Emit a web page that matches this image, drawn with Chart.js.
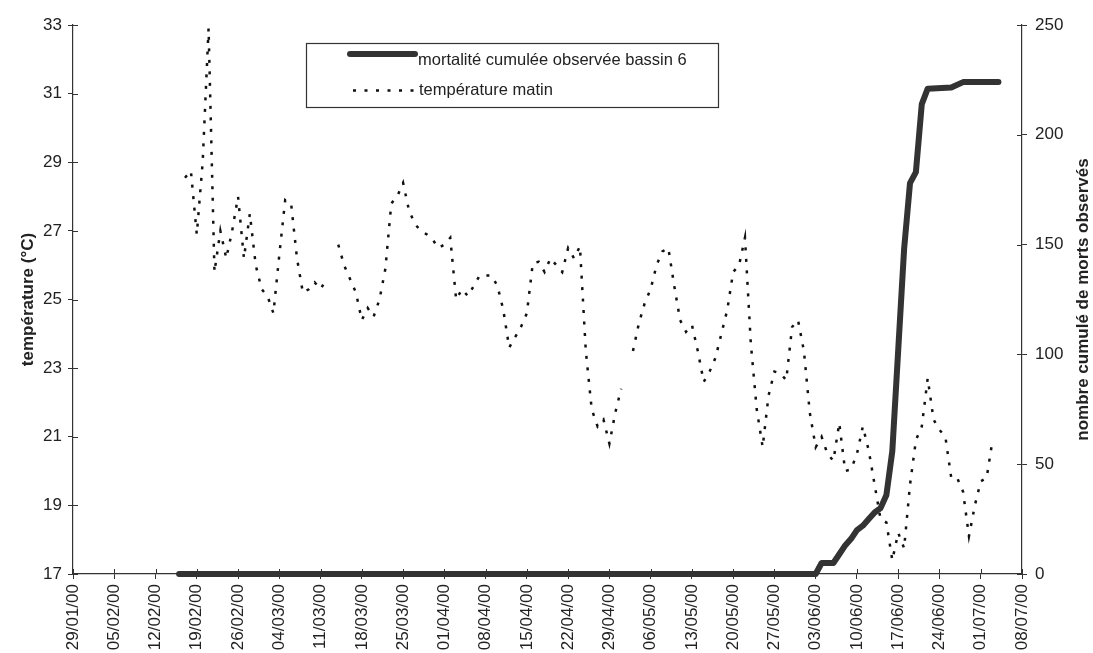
<!DOCTYPE html>
<html lang="fr">
<head>
<meta charset="utf-8">
<title>Mortalité cumulée et température - bassin 6</title>
<script src="https://cdn.jsdelivr.net/npm/chart.js@4.4.1/dist/chart.umd.min.js"></script>
<style>
  body { margin: 0; background: #fff; }
  #graphe { display: block; }
</style>
</head>
<body>
<canvas id="graphe" width="1093" height="653"></canvas>
<script>
// axe des x en jours, jour 0 = 29/01/00
var datesAxe = ['29/01/00', '05/02/00', '12/02/00', '19/02/00', '26/02/00', '04/03/00',
    '11/03/00', '18/03/00', '25/03/00', '01/04/00', '08/04/00', '15/04/00', '22/04/00',
    '29/04/00', '06/05/00', '13/05/00', '20/05/00', '27/05/00', '03/06/00', '10/06/00',
    '17/06/00', '24/06/00', '01/07/00', '08/07/00'];

// température matin, un relevé par jour à partir du jour 19 (17/02/00)
var jourDebutTemp = 19;
var temperatureMatin = [
    28.55, 28.75, 26.9, 29.0, 32.9, 25.8, 27.0, 26.2, 27.0, 28.0,
    26.2, 27.5, 26.0, 25.3, 25.1, 24.6, 26.3, 27.9, 27.8, 26.2,
    25.2, 25.3, 25.5, 25.3, 25.6, null, 26.6, 26.0, 25.6, 25.2,
    24.4, 24.75, 24.5, 25.0, 25.9, 27.8, 28.0, 28.4, 27.6, 27.2,
    27.0, 26.9, 26.75, 26.5, 26.6, 26.8, 25.0, 25.3, 25.1, 25.4,
    25.7, 25.7, 25.7, 25.4, 24.7, 23.6, 23.9, 24.2, 24.6, 26.05,
    26.1, 25.8, 26.2, 26.0, 25.8, 26.5, 26.2, 26.55, 23.5, 21.8,
    21.3, 21.5, 20.8, 21.7, 22.4, null, 23.5, 24.3, 24.9, 25.3,
    26.0, 26.4, 26.5, 25.4, 24.4, 24.06, 24.26, 23.5, 22.6, 22.9,
    23.3, 24.0, 24.7, 25.8, 26.0, 26.8, 23.7, 21.8, 20.7, 22.2,
    22.9, 22.85, 22.65, 24.2, 24.4, 23.5, 21.7, 20.7, 21.0, 20.5,
    20.3, 21.4, 20.0, 20.05, 20.5, 21.3, 20.6, 19.6, 18.6, 18.5,
    17.4, 18.2, 17.75, 19.6, 20.9, 21.3, 22.7, 21.5, 21.2, 21.0,
    19.8, 19.8, 19.4, 18.1, 19.0, 19.7, 19.8, 20.9
];

// mortalité cumulée observée bassin 6
var mortJours = [18, 126, 127, 129, 130, 131, 132, 133, 134, 135, 136, 137, 138, 139,
    140, 141, 142, 143, 144, 145, 149, 151, 157];
var mortCumul = [0, 0, 5, 5, 9, 13, 16, 20, 22, 25, 28, 30, 36, 56,
    102, 148, 178, 183, 214, 221, 221.5, 224, 224];

var police = '"Liberation Sans", Arial, sans-serif';

var ptsTemp = temperatureMatin.map(function (v, i) {
    return { x: jourDebutTemp + i, y: v };
});
var ptsMort = mortJours.map(function (j, i) {
    return { x: j, y: mortCumul[i] };
});

// graduations croisées, titres des axes et légende encadrée
var decor = {
    id: 'decor',
    afterDraw: function (chart) {
        var ctx = chart.ctx;
        var a = chart.chartArea;
        var sx = chart.scales.x, sy = chart.scales.y, sy1 = chart.scales.y1;
        ctx.save();
        ctx.strokeStyle = '#333';
        ctx.lineWidth = 1;
        ctx.beginPath();
        sx.ticks.forEach(function (t) {
            var p = Math.round(sx.getPixelForValue(t.value)) + 0.5;
            ctx.moveTo(p, a.bottom); ctx.lineTo(p, a.bottom - 5);
        });
        sy.ticks.forEach(function (t) {
            var p = Math.round(sy.getPixelForValue(t.value)) + 0.5;
            ctx.moveTo(a.left, p); ctx.lineTo(a.left + 5, p);
        });
        sy1.ticks.forEach(function (t) {
            var p = Math.round(sy1.getPixelForValue(t.value)) + 0.5;
            ctx.moveTo(a.right, p); ctx.lineTo(a.right - 5, p);
        });
        ctx.stroke();

        // titres des axes (lus de bas en haut)
        ctx.fillStyle = '#222';
        ctx.font = 'bold 17px ' + police;
        ctx.textAlign = 'center';
        ctx.textBaseline = 'middle';
        var cy = (a.top + a.bottom) / 2;
        ctx.save();
        ctx.translate(28, cy);
        ctx.rotate(-Math.PI / 2);
        ctx.fillText('température (°C)', 0, 0);
        ctx.restore();
        ctx.save();
        ctx.translate(1083, cy);
        ctx.rotate(-Math.PI / 2);
        ctx.fillText('nombre cumulé de morts observés', 0, 0);
        ctx.restore();

        // légende
        ctx.lineWidth = 1.2;
        ctx.strokeStyle = '#333';
        ctx.strokeRect(306.5, 43.5, 412, 64);
        ctx.lineCap = 'round';
        ctx.strokeStyle = '#333';
        ctx.lineWidth = 6;
        ctx.beginPath();
        ctx.moveTo(350, 54); ctx.lineTo(415, 54);
        ctx.stroke();
        ctx.lineCap = 'butt';
        ctx.lineWidth = 2.5;
        ctx.strokeStyle = '#111';
        ctx.setLineDash([3, 8.5]);
        ctx.beginPath();
        ctx.moveTo(353, 90.5); ctx.lineTo(418, 90.5);
        ctx.stroke();
        ctx.setLineDash([]);
        ctx.font = '16.5px ' + police;
        ctx.textAlign = 'left';
        ctx.fillText('mortalité cumulée observée bassin 6', 418, 60);
        ctx.fillText('température matin', 419, 90.5);
        ctx.restore();
    }
};

new Chart(document.getElementById('graphe'), {
    type: 'line',
    data: {
        datasets: [{
            label: 'mortalité cumulée observée bassin 6',
            data: ptsMort,
            yAxisID: 'y1',
            borderColor: '#333',
            borderWidth: 6,
            borderCapStyle: 'round',
            borderJoinStyle: 'round',
            pointRadius: 0,
            tension: 0,
            clip: false
        }, {
            label: 'température matin',
            data: ptsTemp,
            yAxisID: 'y',
            borderColor: '#111',
            borderWidth: 2.5,
            borderDash: [3, 8.5],
            pointRadius: 0,
            tension: 0,
            spanGaps: false
        }]
    },
    options: {
        responsive: false,
        animation: false,
        layout: { padding: { top: 25, left: 0, right: 0, bottom: 0 } },
        plugins: {
            legend: { display: false },
            tooltip: { enabled: false }
        },
        scales: {
            x: {
                type: 'linear',
                min: 0,
                max: 161,
                afterFit: function (s) { s.height = 79; },
                border: { display: true, color: '#333', width: 1.2 },
                grid: { drawOnChartArea: false, drawTicks: true, tickLength: 5, color: '#333' },
                ticks: {
                    stepSize: 7,
                    autoSkip: false,
                    minRotation: 90,
                    maxRotation: 90,
                    padding: 5,
                    color: '#222',
                    font: { family: police, size: 17 },
                    callback: function (v) { return datesAxe[Math.round(v / 7)]; }
                }
            },
            y: {
                position: 'left',
                min: 17,
                max: 33,
                afterFit: function (s) { s.width = 73; },
                border: { display: true, color: '#333', width: 1.2 },
                grid: { drawOnChartArea: false, drawTicks: true, tickLength: 5, color: '#333' },
                ticks: {
                    stepSize: 2,
                    padding: 6,
                    color: '#222',
                    font: { family: police, size: 17 }
                }
            },
            y1: {
                position: 'right',
                min: 0,
                max: 250,
                afterFit: function (s) { s.width = 71; },
                border: { display: true, color: '#333', width: 1.2 },
                grid: { drawOnChartArea: false, drawTicks: true, tickLength: 5, color: '#333' },
                ticks: {
                    stepSize: 50,
                    padding: 8,
                    color: '#222',
                    font: { family: police, size: 17 }
                }
            }
        }
    },
    plugins: [decor]
});
</script>
</body>
</html>
